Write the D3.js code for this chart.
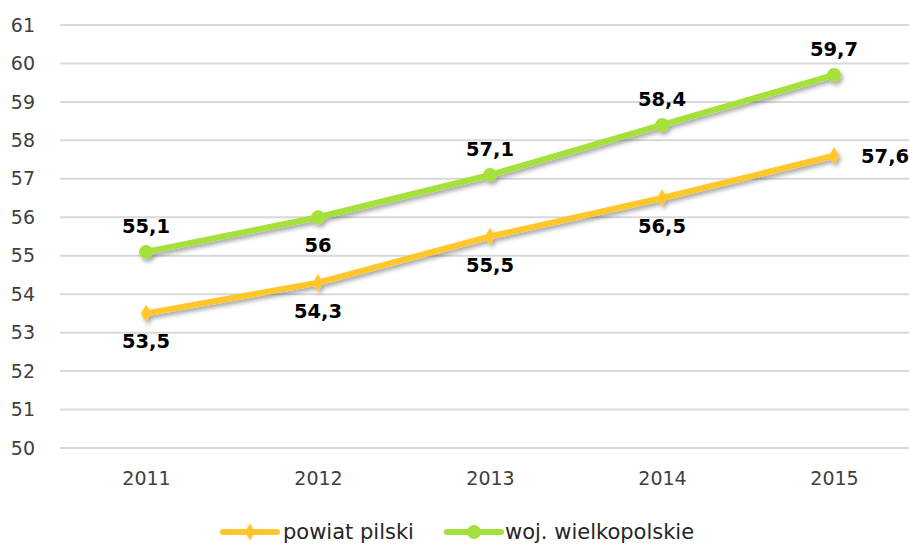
<!DOCTYPE html>
<html><head><meta charset="utf-8">
<script src="https://cdn.jsdelivr.net/npm/d3@7"></script>
<style>
html,body{margin:0;padding:0;background:#fff;}
svg{display:block;}
</style></head>
<body>
<svg id="chart" width="909" height="547"></svg>
<script>
const years = ["2011","2012","2013","2014","2015"];
const powiatPilski = [53.5, 54.3, 55.5, 56.5, 57.6];
const wojWielkopolskie = [55.1, 56, 57.1, 58.4, 59.7];
const yTicks = [50,51,52,53,54,55,56,57,58,59,60,61];
const seriesNames = ["powiat pilski", "woj. wielkopolskie"];
const powiatLabelPos = ["below","below","below","below","right"];
const wojLabelPos = ["above","below","above","above","above"];

const svg = d3.select("#chart");
const W = 909, H = 547;
const x = d3.scalePoint().domain(years).range([60, 920]).padding(0.5);
const y = d3.scaleLinear().domain([50, 61]).range([448, 25]);

const defs = svg.append("defs");
const f = defs.append("filter").attr("id","shadow").attr("x","-20%").attr("y","-20%").attr("width","140%").attr("height","160%");
f.append("feDropShadow").attr("dx",2).attr("dy",3).attr("stdDeviation",2).attr("flood-color","#000").attr("flood-opacity",0.35);

// gridlines
svg.append("g").selectAll("line").data(yTicks).join("line")
  .attr("x1",60).attr("x2",W).attr("y1",d=>y(d)).attr("y2",d=>y(d))
  .attr("stroke","#d9d9d9").attr("stroke-width",2);

// y axis labels
const yAxis = d3.axisLeft(y).tickValues(yTicks).tickSize(0).tickPadding(0).tickFormat(d3.format("d"));
svg.append("g").attr("transform","translate(35,0)").call(yAxis)
  .call(g=>g.select(".domain").remove())
  .selectAll("text").attr("font-family","'DejaVu Sans', sans-serif").attr("font-size",19).attr("fill","#404040");

// x axis labels
const xAxis = d3.axisBottom(x).tickSize(0).tickPadding(0);
svg.append("g").attr("transform","translate(0,471)").call(xAxis)
  .call(g=>g.select(".domain").remove())
  .selectAll("text").attr("font-family","'DejaVu Sans', sans-serif").attr("font-size",19).attr("fill","#404040");

const series = [
  {name: seriesNames[0], values: powiatPilski, color: "#ffc72c", sym: "diamond", pos: powiatLabelPos},
  {name: seriesNames[1], values: wojWielkopolskie, color: "#a5e03a", sym: "circle", pos: wojLabelPos}
];

const line = d3.line().x((d,i)=>x(years[i])).y(d=>y(d));

series.forEach(s=>{
  const g = svg.append("g").attr("filter","url(#shadow)");
  g.append("path").datum(s.values).attr("d",line).attr("fill","none")
    .attr("stroke",s.color).attr("stroke-width",6).attr("stroke-linejoin","round");
  const symType = s.sym === "circle" ? d3.symbolCircle : d3.symbolDiamond;
  const sz = s.sym === "circle" ? 150 : 90;
  g.selectAll("path.m").data(s.values).join("path").attr("class","m")
    .attr("d", d3.symbol().type(symType).size(sz))
    .attr("transform",(d,i)=>`translate(${x(years[i])},${y(d)})`)
    .attr("fill",s.color);
});

const fmt = v => String(v).replace(".", ",");
series.forEach(s=>{
  svg.append("g").selectAll("text").data(s.values).join("text")
    .attr("x",(d,i)=> s.pos[i]==="right" ? x(years[i])+27 : x(years[i]))
    .attr("y",(d,i)=> s.pos[i]==="above" ? y(d)-19 : s.pos[i]==="below" ? y(d)+35 : y(d)+7)
    .attr("text-anchor",(d,i)=> s.pos[i]==="right" ? "start" : "middle")
    .attr("font-family","'DejaVu Sans', sans-serif").attr("font-weight","bold")
    .attr("font-size",19.5).attr("fill","#000")
    .text(d=>fmt(d));
});

// legend
const leg = svg.append("g");
const items = [
  {s: series[0], x0: 223, tx: 283},
  {s: series[1], x0: 447, tx: 505}
];
items.forEach(it=>{
  const ly = 532;
  leg.append("line").attr("x1",it.x0).attr("x2",it.x0+54).attr("y1",ly).attr("y2",ly)
    .attr("stroke",it.s.color).attr("stroke-width",6).attr("stroke-linecap","round");
  const symType = it.s.sym === "circle" ? d3.symbolCircle : d3.symbolDiamond;
  leg.append("path").attr("d", d3.symbol().type(symType).size(it.s.sym==="circle"?150:90))
    .attr("transform",`translate(${it.x0+27},${ly})`).attr("fill",it.s.color);
  leg.append("text").attr("x",it.tx).attr("y",ly+7)
    .attr("font-family","'DejaVu Sans', sans-serif").attr("font-size",21).attr("fill","#262626")
    .text(it.s.name);
});
</script>
</body></html>
